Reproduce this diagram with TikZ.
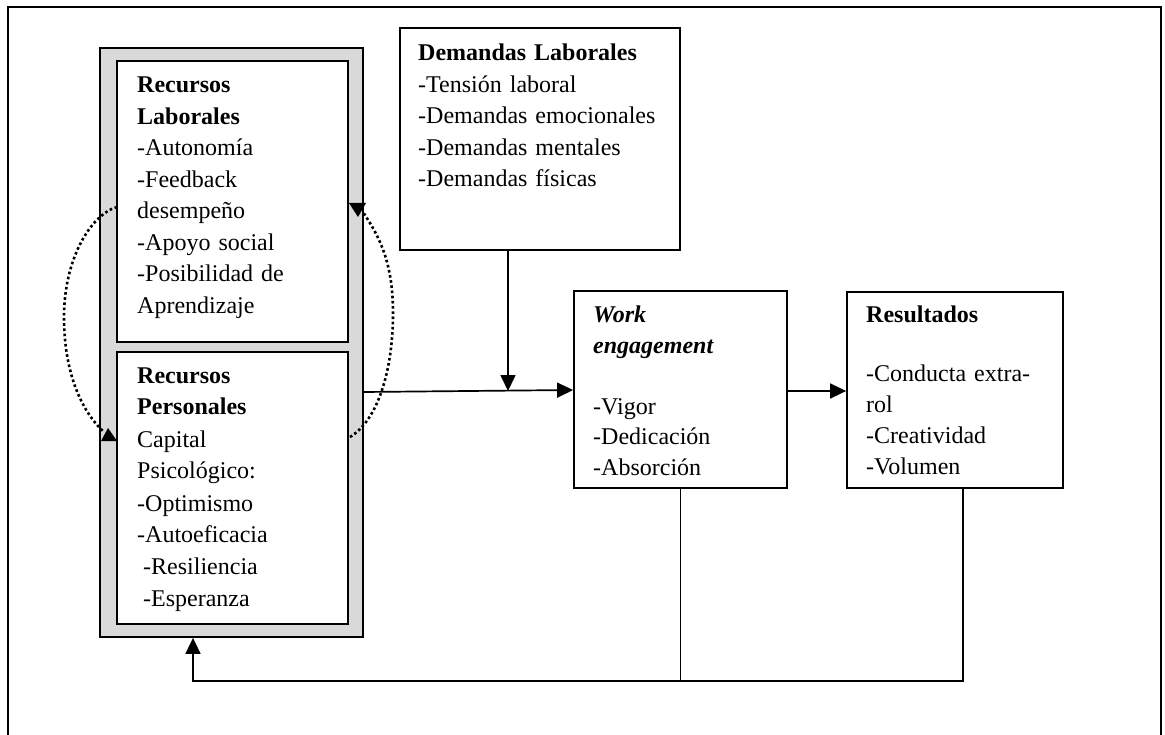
\documentclass[tikz,border=0pt]{standalone}
\usepackage{fontspec}
\setmainfont{Liberation Serif}
\usetikzlibrary{arrows.meta}
\definecolor{bandgray}{RGB}{217,217,217}
\begin{document}
\begin{tikzpicture}[x=1pt,y=-1pt,
  frame/.style={line width=1.4pt},
  boxline/.style={draw,line width=1.8pt,inner sep=0pt},
  txt/.style={anchor=base west,inner sep=0pt,align=left,text width=270pt,font=\fontsize{24}{31.5}\selectfont},
  arr/.style={-{Triangle[length=16pt,width=15pt]},line width=1.7pt},
  conn/.style={line width=1.7pt},
  dotline/.style={line width=2.6pt,dash pattern=on 2.6pt off 2.6pt}]
\useasboundingbox (0,0) rectangle (1165,735);
% outer frame (bottom edge lies below the page)
\draw[frame] (8,760) -- (8,7) -- (1161,7) -- (1161,760);

% resources column
\node[boxline,fill=bandgray,minimum width=263pt,minimum height=589pt] (gray) at (231.5,342.5) {};
\node[boxline,fill=white,minimum width=231pt,minimum height=281pt] (rl) at (232.5,201.5) {};
\node[boxline,fill=white,minimum width=231pt,minimum height=272pt] (rp) at (232.5,488) {};
\node[txt] (rlt) at (137,93) {\textbf{Recursos}\\\textbf{Laborales}\\-Autonomía\\-Feedback\\desempeño\\-Apoyo social\\-Posibilidad de\\Aprendizaje};
\node[txt,font=\fontsize{24}{32}\selectfont] (rpt) at (137,383) {\textbf{Recursos}\\\textbf{Personales}\\Capital\\Psicológico:\\-Optimismo\\-Autoeficacia\\\hspace*{6pt}-Resiliencia\\\hspace*{6pt}-Esperanza};

% demands
\node[boxline,minimum width=280pt,minimum height=222pt] (dl) at (540,139) {};
\node[txt] (dlt) at (418,61) {\textbf{Demandas Laborales}\\-Tensión laboral\\-Demandas emocionales\\-Demandas mentales\\-Demandas físicas};

% work engagement
\node[boxline,minimum width=213pt,minimum height=197pt] (we) at (680.5,389.5) {};
\node[txt,font=\fontsize{24}{30.5}\selectfont] (wet) at (593,323) {\textbf{\textit{Work}}\\\textbf{\textit{engagement}}\\[30.5pt]-Vigor\\-Dedicación\\-Absorción};

% results
\node[boxline,minimum width=216pt,minimum height=196pt] (res) at (955,390) {};
\node[txt,font=\fontsize{24}{31}\selectfont] (rest) at (866,323) {\textbf{Resultados}\\[28pt]-Conducta extra-\\rol\\-Creatividad\\-Volumen};

% connectors
\coordinate (join) at (508,391);
\draw[arr] (dl.south -| join) -- (join);
\draw[arr] ([yshift=-49.5pt]gray.east) -- ([yshift=-0.5pt]we.west);
\draw[arr] ([yshift=-1.5pt]we.east) -- ([yshift=-1pt]res.west);
\draw[conn] (we.south) -- ++(0,192);
\draw[arr] ([xshift=8pt]res.south) -- ++(0,192) -| ([xshift=-38.5pt]gray.south);

% dotted loop between the two resource boxes
\draw[dotline] (117,207) .. controls (90,215) and (64,260) .. (64,317)
  .. controls (64,370) and (80,410) .. (104,432);
\fill (101,441) -- (117,441) -- (108,428) -- cycle;
\draw[dotline] (350,437) .. controls (378,420) and (393,370) .. (393,313)
  .. controls (393,260) and (378,235) .. (363,212);
\fill (349,203) -- (366,203) -- (358,217) -- cycle;
\end{tikzpicture}
\end{document}
